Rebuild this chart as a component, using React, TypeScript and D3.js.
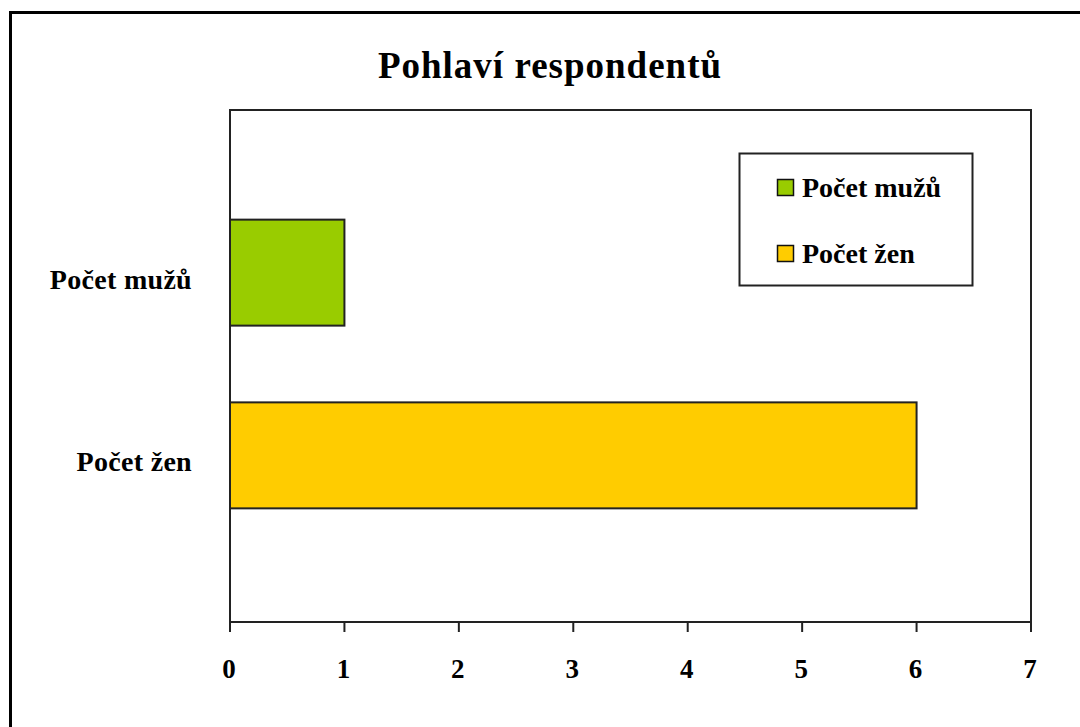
import React from "react";
import * as d3 from "d3";

const categories = ["Počet mužů", "Počet žen"];
const values = [1, 6];
const colors = ["#99cc00", "#ffcc00"];
const xTicks = [0, 1, 2, 3, 4, 5, 6, 7];
const title = "Pohlaví respondentů";

const W = 1080;
const H = 727;
const font = "'Liberation Serif', 'Times New Roman', serif";

export default function App() {
  const margin = { top: 110, right: 49, bottom: 105, left: 230 };
  const plotW = W - margin.left - margin.right;
  const plotH = H - margin.top - margin.bottom;

  const x = d3.scaleLinear().domain([0, 7]).range([margin.left, margin.left + plotW]);
  const y = d3
    .scaleBand()
    .domain(categories)
    .range([margin.top, margin.top + plotH - 4])
    .paddingInner(0.42)
    .paddingOuter(0.6);

  const bottom = margin.top + plotH;

  return (
    <svg width={W} height={H} style={{ position: "absolute", left: 0, top: 0, background: "#fff" }}>
      {/* outer frame */}
      <rect x={10.5} y={12.5} width={W + 10} height={H + 10} fill="#fff" stroke="#000" strokeWidth={3} />

      <text x={550} y={78} textAnchor="middle" fontFamily={font} fontWeight="bold" fontSize={37} letterSpacing={1}>
        {title}
      </text>

      {/* plot area */}
      <rect x={margin.left} y={margin.top} width={plotW} height={plotH} fill="#fff" stroke="#222" strokeWidth={2} />

      {categories.map((c, i) => (
        <rect
          key={c}
          x={x(0)}
          y={y(c)}
          width={x(values[i]) - x(0)}
          height={y.bandwidth()}
          fill={colors[i]}
          stroke="#222"
          strokeWidth={2}
        />
      ))}

      {/* y labels */}
      {categories.map((c) => (
        <text
          key={c}
          x={192}
          y={(y(c) as number) + y.bandwidth() / 2 + 16}
          textAnchor="end"
          fontFamily={font}
          fontWeight="bold"
          fontSize={28}
          letterSpacing={0.3}
        >
          {c}
        </text>
      ))}

      {/* x axis */}
      <line x1={margin.left} x2={margin.left + plotW} y1={bottom} y2={bottom} stroke="#222" strokeWidth={2} />
      {xTicks.map((t) => (
        <g key={t}>
          <line x1={x(t)} x2={x(t)} y1={bottom} y2={bottom + 10} stroke="#222" strokeWidth={2} />
          <text x={x(t) - 1} y={678} textAnchor="middle" fontFamily={font} fontWeight="bold" fontSize={27}>
            {t}
          </text>
        </g>
      ))}

      {/* legend */}
      <rect x={739.5} y={153.5} width={233} height={132} fill="#fff" stroke="#222" strokeWidth={2} />
      {categories.map((c, i) => (
        <g key={c}>
          <rect x={777.5} y={179.5 + i * 66} width={16} height={16} fill={colors[i]} stroke="#111" strokeWidth={1.5} />
          <text x={802} y={197 + i * 66} fontFamily={font} fontWeight="bold" fontSize={28}>
            {c}
          </text>
        </g>
      ))}
    </svg>
  );
}
